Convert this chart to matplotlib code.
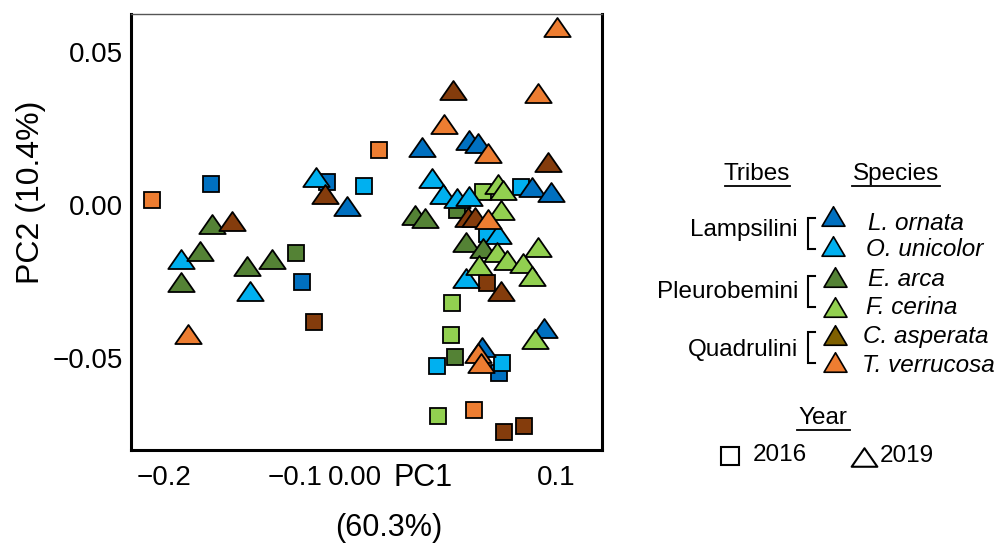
import matplotlib
matplotlib.use("Agg")
import matplotlib.pyplot as plt
from matplotlib.path import Path

plt.rcParams['font.family'] = ['Liberation Sans', 'DejaVu Sans']

# ---------------- data ----------------
species = ["L. ornata", "O. unicolor", "E. arca", "F. cerina", "C. asperata", "T. verrucosa"]
tribes = ["Lampsilini", "Pleurobemini", "Quadrulini"]
point_colors = ["#0070C0", "#00B0F0", "#548235", "#92D050", "#843C0C", "#ED7D31"]
legend_colors = ["#0070C0", "#00B0F0", "#548235", "#92D050", "#7F6000", "#ED7D31"]

# 2016 (squares)
lorn_x16 = [-0.1643, -0.0946, -0.0750, 0.0563]
lorn_y16 = [0.0069, -0.0251, 0.0077, -0.0552]
ouni_x16 = [-0.0467, 0.0732, 0.0469, 0.0086, 0.0588]
ouni_y16 = [0.0062, 0.0060, -0.0095, -0.0528, -0.0517]
earc_x16 = [-0.0992, 0.0240, 0.0226]
earc_y16 = [-0.0158, -0.0016, -0.0497]
fcer_x16 = [0.0443, 0.0206, 0.0194, 0.0099]
fcer_y16 = [0.0044, -0.0322, -0.0426, -0.0692]
casp_x16 = [-0.0852, 0.0469, 0.0601, 0.0754]
casp_y16 = [-0.0385, -0.0255, -0.0743, -0.0725]
tver_x16 = [-0.2094, -0.0353, 0.0372]
tver_y16 = [0.0016, 0.0180, -0.0672]

# 2019 (triangles)
lorn_x19 = [-0.0597, -0.0024, 0.0336, 0.0405, 0.0818, 0.0961, 0.0907, 0.0431]
lorn_y19 = [-0.0003, 0.0191, 0.0213, 0.0202, 0.0060, 0.0044, -0.0404, -0.0467]
ouni_x19 = [-0.1870, -0.1342, -0.0839, 0.0048, 0.0137, 0.0240, 0.0336, 0.0553, 0.0308]
ouni_y19 = [-0.0178, -0.0281, 0.0091, 0.0090, 0.0035, 0.0022, 0.0030, -0.0095, -0.0240]
earc_x19 = [-0.1630, -0.1725, -0.1870, -0.1367, -0.1176, -0.0080, -0.0003, 0.0308, 0.0443]
earc_y19 = [-0.0063, -0.0150, -0.0254, -0.0199, -0.0178, -0.0033, -0.0044, -0.0120, -0.0142]
fcer_x19 = [0.0553, 0.0596, 0.0578, 0.0544, 0.0858, 0.0622, 0.0744, 0.0412, 0.0813, 0.0839]
fcer_y19 = [0.0068, 0.0049, -0.0016, -0.0153, -0.0137, -0.0180, -0.0189, -0.0197, -0.0232, -0.0440]
casp_x19 = [-0.1482, -0.0768, 0.0214, 0.0935, 0.0328, 0.0379, 0.0576]
casp_y19 = [-0.0052, 0.0036, 0.0377, 0.0142, -0.0038, -0.0038, -0.0281]
tver_x19 = [-0.1819, 0.1007, 0.0862, 0.0142, 0.0477, 0.0477, 0.0405, 0.0425]
tver_y19 = [-0.0423, 0.0583, 0.0366, 0.0265, 0.0172, -0.0047, -0.0486, -0.0517]

x16 = [lorn_x16, ouni_x16, earc_x16, fcer_x16, casp_x16, tver_x16]
y16 = [lorn_y16, ouni_y16, earc_y16, fcer_y16, casp_y16, tver_y16]
x19 = [lorn_x19, ouni_x19, earc_x19, fcer_x19, casp_x19, tver_x19]
y19 = [lorn_y19, ouni_y19, earc_y19, fcer_y19, casp_y19, tver_y19]

xtick_vals = [-0.2, -0.1, 0.1]
xtick_labels = ["\u22120.2", "\u22120.1", "0.1"]
ytick_vals = [-0.05, 0.0, 0.05]
ytick_labels = ["\u22120.05", "0.00", "0.05"]

# ---------------- figure ----------------
W, H = 1008, 547
fig = plt.figure(figsize=(W / 100, H / 100), dpi=100)

def fx(px):
    return px / W

def fy(py):
    return 1 - py / H

ax = fig.add_axes([fx(131), fy(450), (602 - 131) / W, (450 - 14) / H])

tri = Path([(0, 0.72), (-1, -0.72), (1, -0.72), (0, 0.72)],
           [Path.MOVETO, Path.LINETO, Path.LINETO, Path.CLOSEPOLY])
tri_leg = Path([(0, 0.85), (-1, -0.85), (1, -0.85), (0, 0.85)],
               [Path.MOVETO, Path.LINETO, Path.LINETO, Path.CLOSEPOLY])

for i in range(len(species)):
    ax.plot(x16[i], y16[i], linestyle="none", marker="s", markersize=11.4,
            markerfacecolor=point_colors[i], markeredgecolor="black",
            markeredgewidth=1.3, zorder=2)
for i in range(len(species)):
    ax.plot(x19[i], y19[i], linestyle="none", marker=tri, markersize=19,
            markerfacecolor=point_colors[i], markeredgecolor="black",
            markeredgewidth=1.3, zorder=3)

ax.set_xlim(-0.2252, 0.1351)
ax.set_ylim(-0.0803, 0.0626)
ax.set_xticks(xtick_vals)
ax.set_xticklabels(xtick_labels)
ax.set_yticks(ytick_vals)
ax.set_yticklabels(ytick_labels)
ax.tick_params(axis="both", length=0, labelsize=20)
ax.tick_params(axis="x", pad=11)
ax.tick_params(axis="y", pad=6)
for side in ["left", "right", "bottom"]:
    ax.spines[side].set_linewidth(2.2)
    ax.spines[side].set_color("black")
ax.spines["top"].set_linewidth(1.0)
ax.spines["top"].set_color("#555555")

# axis labels
fig.text(fx(31), fy(192), "PC2 (10.4%)", rotation=90, ha="center", va="center", fontsize=23)
fig.text(fx(355), fy(478), "0.00", ha="center", va="center", fontsize=20)
fig.text(fx(423), fy(478), "PC1", ha="center", va="center", fontsize=22)
fig.text(fx(389), fy(528), "(60.3%)", ha="center", va="center", fontsize=22)

# ---------------- legend (custom) ----------------
lax = fig.add_axes([0, 0, 1, 1])
lax.set_xlim(0, W)
lax.set_ylim(H, 0)
lax.axis("off")

lfs = 17.5
lax.text(757, 174, "Tribes", ha="center", va="center", fontsize=lfs)
lax.text(896, 174, "Species", ha="center", va="center", fontsize=lfs)
lax.plot([725, 790], [186, 186], color="black", lw=1.3)
lax.plot([852, 940], [186, 186], color="black", lw=1.3)

tri_ys = [216, 246, 277, 307, 335, 362]
tri_xs = [833, 833, 835, 835, 835, 835]
lab_ys = [223, 250, 280, 308, 336, 365]
lab_xs = [868, 866, 868, 866, 863, 862]
for i, sp in enumerate(species):
    lax.plot([tri_xs[i]], [tri_ys[i]], linestyle="none", marker=tri_leg, markersize=16.5,
             markerfacecolor=legend_colors[i], markeredgecolor="black", markeredgewidth=1.2)
    lax.text(lab_xs[i], lab_ys[i], sp, ha="left", va="center", fontsize=lfs, style="italic")

tribe_ys = [230, 292, 350]
brackets = [(218, 249), (276, 307), (332, 363)]
for t, ty, (b0, b1) in zip(tribes, tribe_ys, brackets):
    lax.text(798, ty, t, ha="right", va="center", fontsize=lfs)
    lax.plot([815, 808, 808, 815], [b0, b0, b1, b1], color="black", lw=1.5,
             solid_joinstyle="miter")

lax.text(823, 418, "Year", ha="center", va="center", fontsize=lfs)
lax.plot([797, 850], [430, 430], color="black", lw=1.3)
lax.plot([730], [456], linestyle="none", marker="s", markersize=12.5,
         markerfacecolor="white", markeredgecolor="black", markeredgewidth=1.5)
lax.text(753, 455, "2016", ha="left", va="center", fontsize=lfs)
lax.plot([864], [457], linestyle="none", marker=tri, markersize=18.5,
         markerfacecolor="white", markeredgecolor="black", markeredgewidth=1.5)
lax.text(880, 456, "2019", ha="left", va="center", fontsize=lfs)

fig.savefig("out.png", dpi=100)
